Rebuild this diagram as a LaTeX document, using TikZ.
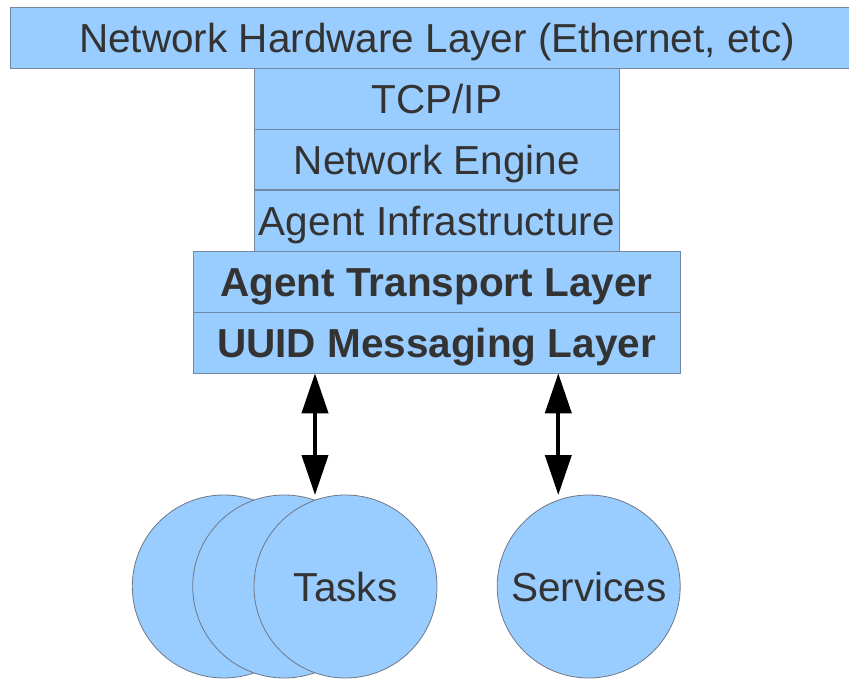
\documentclass[tikz,border=0pt]{standalone}
\usepackage{fontspec}
\setmainfont{Liberation Sans}
\usetikzlibrary{arrows.meta}
\definecolor{boxfill}{HTML}{99CCFF}
\definecolor{boxline}{RGB}{112,136,162}
\definecolor{circline}{RGB}{110,120,135}
\definecolor{txt}{HTML}{333333}
\tikzset{
  layer/.style={draw=boxline, fill=boxfill, line width=1pt, text=txt, inner sep=0pt, text height=29pt, text depth=0pt, font=\fontsize{40.5}{40.5}\selectfont},
  boldlayer/.style={layer, font=\fontsize{40.5}{40.5}\selectfont\bfseries},
  blob/.style={draw=circline, fill=boxfill, line width=0.8pt, circle, minimum size=183pt, inner sep=0pt, text=txt, font=\fontsize{40.5}{40.5}\selectfont},
  blobtext/.style={text=txt, inner sep=0pt, text height=29pt, text depth=0pt, font=\fontsize{40.5}{40.5}\selectfont},
  dbl/.style={line width=4pt, {Triangle[width=26pt,length=40pt]}-{Triangle[width=26pt,length=40pt]}}
}
\begin{document}
\begin{tikzpicture}[x=1pt,y=-1pt]
\useasboundingbox (0,0) rectangle (849,679);
\node[layer, minimum width=854pt, minimum height=61pt] (hw) at (437,38) {Network Hardware Layer (Ethernet, etc)};
\node[layer, minimum width=365pt, minimum height=61pt] (tcp) at (436.8,99) {TCP/IP};
\node[layer, minimum width=365pt, minimum height=60pt] (ne) at (436.8,160) {Network Engine};
\node[layer, minimum width=365pt, minimum height=61pt] (ai) at (436.8,220.6) {Agent Infrastructure};
\node[boldlayer, minimum width=487pt, minimum height=61pt] (atl) at (436.5,281.6) {Agent Transport Layer};
\node[boldlayer, minimum width=487pt, minimum height=61pt] (uuid) at (436.5,342.6) {UUID Messaging Layer};
\node[blob] (t1) at (223.8,586.5) {};
\node[blob] (t2) at (284.2,586.5) {};
\node[blob] (t3) at (345.5,586.5) {};
\node[blobtext] (tl) at (t3.center) {Tasks};
\node[blob] (svc) at (588.7,586.5) {};
\node[blobtext] (sl) at (svc.center) {Services};
\coordinate (a1s) at (315,373.3);
\coordinate (a1e) at (315,495);
\coordinate (a2s) at (558.3,373.3);
\coordinate (a2e) at (558.3,495);
\draw[dbl] (a1s) -- (a1e);
\draw[dbl] (a2s) -- (a2e);
\end{tikzpicture}
\end{document}
